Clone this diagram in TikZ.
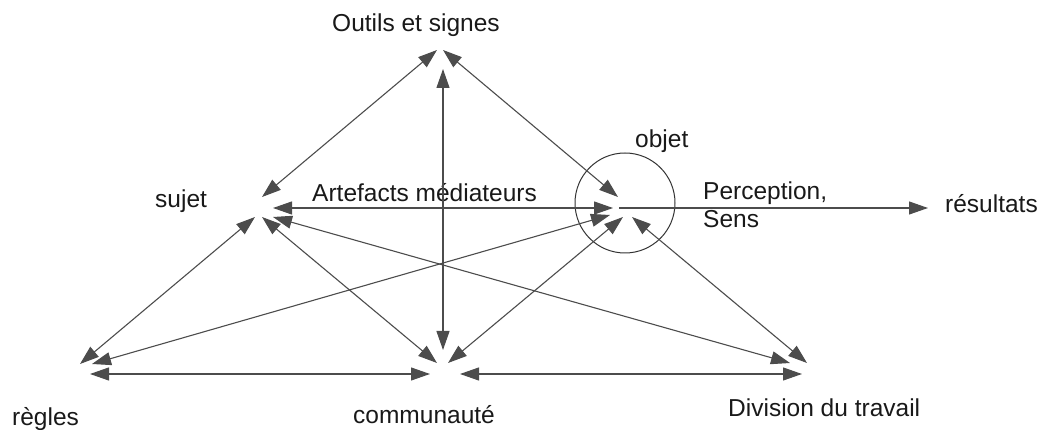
\documentclass[tikz,border=0pt]{standalone}
\usepackage{fontspec}
\setmainfont{Liberation Sans}
\usetikzlibrary{arrows.meta}
\begin{document}
\begin{tikzpicture}[x=1pt,y=-1pt,
  >={Triangle[length=19pt,width=13pt]},
  link/.style={<->,line width=1.1pt,draw=black!70},
  oneway/.style={->,line width=1.1pt,draw=black!70},
  lbl/.style={anchor=base west,inner sep=0pt,font=\fontsize{24.5}{29}\selectfont,text=black!90}]
\useasboundingbox (0,0) rectangle (1042,430);
% labels
\node[lbl] (outils) at (332,32) {Outils et signes};
\node[lbl] (sujet) at (155,208) {sujet};
\node[lbl] (artef) at (312,202) {Artefacts médiateurs};
\node[lbl] (objet) at (635,148) {objet};
\node[lbl] (perc) at (703,200) {Perception,};
\node[lbl] (sens) at (703,228) {Sens};
\node[lbl] (res) at (945,213) {résultats};
\node[lbl] (regles) at (12,425) {règles};
\node[lbl] (comm) at (353,423) {communauté};
\node[lbl] (div) at (728,417) {Division du travail};
% objet circle
\node[circle,draw=black!80,line width=1pt,minimum size=100pt,inner sep=0pt] (cercle) at (625,203) {};
% endpoints
\coordinate (O-l) at (437,50);
\coordinate (O-r) at (443,50);
\coordinate (O-c) at (443,69);
\coordinate (S-ul) at (262,197);
\coordinate (S-m) at (273,208);
\coordinate (S-dr) at (273,217);
\coordinate (S-dm) at (262,217);
\coordinate (S-dl) at (255,217);
\coordinate (B-ul) at (618,197);
\coordinate (B-m) at (613,208);
\coordinate (B-s) at (619,208);
\coordinate (B-dl) at (610,215);
\coordinate (B-dm) at (623,217);
\coordinate (B-dr) at (632,217);
\coordinate (R-a) at (80,364);
\coordinate (R-b) at (92,364);
\coordinate (R-h) at (90,374);
\coordinate (C-t) at (443,350);
\coordinate (C-l) at (437,363);
\coordinate (C-r) at (448,363);
\coordinate (C-hl) at (430,374);
\coordinate (C-hr) at (460,374);
\coordinate (D-a) at (790,363);
\coordinate (D-b) at (807,363);
\coordinate (D-h) at (802,374);
\coordinate (Res) at (928,208);
% connectors
\draw[link] (O-l) -- (S-ul);
\draw[link] (O-r) -- (B-ul);
\draw[link] (O-c) -- (C-t);
\draw[link] (S-m) -- (B-m);
\draw[link] (S-dl) -- (R-a);
\draw[link] (S-dm) -- (C-l);
\draw[link] (S-dr) -- (D-a);
\draw[link] (B-dl) -- (R-b);
\draw[link] (B-dm) -- (C-r);
\draw[link] (B-dr) -- (D-b);
\draw[link] (R-h) -- (C-hl);
\draw[link] (C-hr) -- (D-h);
\draw[oneway] (B-s) -- (Res);
\end{tikzpicture}
\end{document}
